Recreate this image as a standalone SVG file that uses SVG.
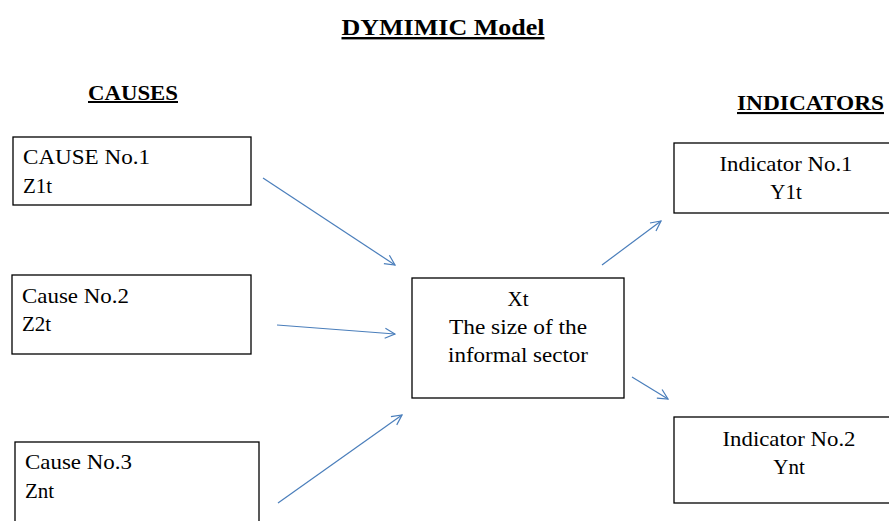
<svg xmlns="http://www.w3.org/2000/svg" width="889" height="521" viewBox="0 0 889 521">
<style>
.box{fill:#fff;stroke:#000;stroke-width:1.3}
.t{font-size:21px;fill:#000}
.h{font-weight:bold;fill:#000;text-decoration:underline}
.c{text-anchor:middle}
.arr{stroke:#4a7ebb;stroke-width:1.2;fill:none;marker-end:url(#ah)}
</style>
<defs>
<marker id="ah" viewBox="0 0 12 12" refX="11" refY="6" markerWidth="12" markerHeight="12" markerUnits="userSpaceOnUse" orient="auto">
<path d="M1,1 L11,6 L1,11" fill="none" stroke="#4a7ebb" stroke-width="1.2"/>
</marker>
</defs>
<rect width="889" height="521" fill="#fff"/>
<g font-family="Liberation Serif">
<g id="headings">
<text class="h c" x="443" y="35" font-size="24" textLength="203" lengthAdjust="spacingAndGlyphs">DYMIMIC Model</text>
<text class="h" x="88" y="100" font-size="20" textLength="90" lengthAdjust="spacingAndGlyphs">CAUSES</text>
<text class="h" x="737" y="110" font-size="21" textLength="147" lengthAdjust="spacingAndGlyphs">INDICATORS</text>
</g>
<g id="cause1">
<rect class="box" x="13" y="137" width="238" height="68"/>
<text class="t" x="23" y="164" textLength="127" lengthAdjust="spacingAndGlyphs">CAUSE No.1</text>
<text class="t" x="23" y="193">Z1t</text>
</g>
<g id="cause2">
<rect class="box" x="12" y="275" width="239" height="79"/>
<text class="t" x="22" y="303" textLength="107" lengthAdjust="spacingAndGlyphs">Cause No.2</text>
<text class="t" x="22" y="331">Z2t</text>
</g>
<g id="cause3">
<rect class="box" x="15" y="442" width="244" height="90"/>
<text class="t" x="25" y="469" textLength="107" lengthAdjust="spacingAndGlyphs">Cause No.3</text>
<text class="t" x="25" y="498">Znt</text>
</g>
<g id="latent">
<rect class="box" x="412" y="278" width="212" height="120"/>
<text class="t c" x="518" y="306">Xt</text>
<text class="t c" x="518" y="334" textLength="138" lengthAdjust="spacingAndGlyphs">The size of the</text>
<text class="t c" x="518" y="362" textLength="140" lengthAdjust="spacingAndGlyphs">informal sector</text>
</g>
<g id="indicator1">
<rect class="box" x="674" y="143" width="220" height="70"/>
<text class="t c" x="786" y="171" textLength="133" lengthAdjust="spacingAndGlyphs">Indicator No.1</text>
<text class="t c" x="786" y="199">Y1t</text>
</g>
<g id="indicator2">
<rect class="box" x="674" y="417" width="220" height="86"/>
<text class="t c" x="789" y="446" textLength="133" lengthAdjust="spacingAndGlyphs">Indicator No.2</text>
<text class="t c" x="789" y="474">Ynt</text>
</g>
</g>
<g id="connectors">
<line class="arr" x1="263" y1="178" x2="395" y2="265"/>
<line class="arr" x1="277" y1="325" x2="395" y2="334"/>
<line class="arr" x1="278" y1="503" x2="402" y2="415"/>
<line class="arr" x1="602" y1="265" x2="661" y2="221"/>
<line class="arr" x1="632" y1="377" x2="668" y2="399"/>
</g>
</svg>
